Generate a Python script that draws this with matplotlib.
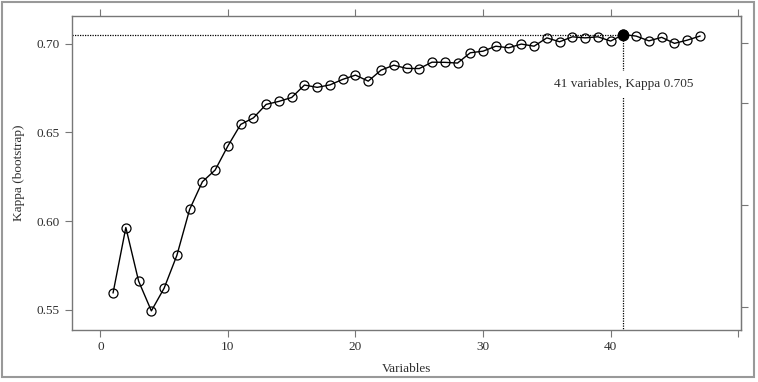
import matplotlib
matplotlib.use("Agg")
import matplotlib.pyplot as plt
from matplotlib.patches import Rectangle

# number of variables vs bootstrap kappa
variables = list(range(1, 48))
kappa = [
    0.5596, 0.5964, 0.5662, 0.5494, 0.5622, 0.5807, 0.6066, 0.6222, 0.6288, 0.6424,
    0.6545, 0.6582, 0.6658, 0.6675, 0.6697, 0.6767, 0.6754, 0.6768, 0.6799, 0.6823,
    0.6789, 0.6851, 0.6879, 0.6861, 0.6860, 0.6896, 0.6895, 0.6891, 0.6949, 0.6958,
    0.6986, 0.6977, 0.6998, 0.6986, 0.7033, 0.7011, 0.7039, 0.7033, 0.7039, 0.7015,
    0.7052, 0.7043, 0.7016, 0.7036, 0.7002, 0.7020, 0.7043,
]
best_n = 41
best_kappa = 0.705

x_ticks = [0, 10, 20, 30, 40, 50]
x_tick_labels = ["0", "10", "20", "30", "40", ""]
y_ticks = [0.55, 0.60, 0.65, 0.70]
y_tick_labels = ["0.55", "0.60", "0.65", "0.70"]
right_ticks = [0.5515, 0.609, 0.6665, 0.7003]

plt.rcParams['font.family'] = ['Liberation Serif', 'DejaVu Serif']
plt.rcParams['font.size'] = 9.5

grey = '#777777'
txt = '#2e2e2e'

fig = plt.figure(figsize=(7.58, 3.82), dpi=100)
ax = fig.add_axes([0.095, 0.136, 0.8826, 0.822])

ax.plot(variables, kappa, color='black', lw=1, marker='o', ms=6.5,
        mfc='none', mec='black', mew=0.9, zorder=3)
ax.plot([best_n], [best_kappa], 'o', color='black', ms=7.5, zorder=4)

ax.set_xlim(-2.22, 50.22)
ax.set_ylim(0.5386, 0.7156)

ax.plot([-2.22, best_n], [best_kappa, best_kappa], color='black', lw=0.9,
        ls=(0, (1, 1)), zorder=2)
ax.plot([best_n, best_n], [best_kappa, 0.5386], color='black', lw=0.9,
        ls=(0, (1, 1)), zorder=2)
ax.text(best_n, 0.6772, f"{best_n} variables, Kappa {best_kappa}",
        ha='center', va='center', color=txt, fontsize=9.5, zorder=5,
        bbox=dict(facecolor='white', edgecolor='none', pad=5))

ax.set_xticks(x_ticks, labels=x_tick_labels)
ax.set_yticks(y_ticks, labels=y_tick_labels)
ax.tick_params(axis='both', direction='out', length=5, width=0.8,
               colors=grey, labelcolor=txt, labelsize=9.5)
ax.tick_params(axis='x', top=True, labeltop=False, pad=3)
ax.tick_params(axis='y', pad=4)

sec = ax.secondary_yaxis('right')
sec.set_yticks(right_ticks, labels=[])
sec.tick_params(direction='out', length=5, width=0.8, colors=grey)
sec.spines['right'].set_color(grey)

for s in ax.spines.values():
    s.set_color(grey)
    s.set_linewidth(1)

ax.set_xlabel("Variables", color=txt, fontsize=9.5, labelpad=7)
ax.set_ylabel("Kappa (bootstrap)", color=txt, fontsize=9.5, labelpad=8)

fig.patches.append(Rectangle((0.0026, 0.013), 0.992, 0.982,
                             transform=fig.transFigure, fill=False,
                             edgecolor='#999999', lw=1.5))

fig.savefig("out.png", dpi=100)
